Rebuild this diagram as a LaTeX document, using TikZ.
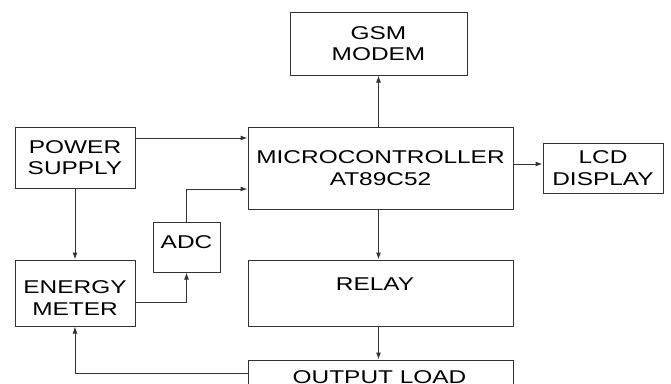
\documentclass[tikz,border=0pt]{standalone}
\usepackage{fontspec}
\setmainfont[FakeStretch=1.32]{Liberation Sans}
\usetikzlibrary{arrows.meta}
\begin{document}
\begin{tikzpicture}[x=1pt,y=-1pt,
  box/.style={draw=black!80,line width=1pt,rectangle,inner sep=0pt,align=center,
    font=\fontsize{18.5}{21.7}\selectfont},
  lbl/.style={inner sep=0pt,align=center,font=\fontsize{18.5}{21.7}\selectfont},
  arr/.style={draw=black!80,line width=1pt,-{Latex[length=7pt,width=5pt]}},
  ln/.style={draw=black!80,line width=1pt}]
\useasboundingbox (0,0) rectangle (671,383);
\clip (0,0) rectangle (671,383);
\node[box,minimum width=177pt,minimum height=63pt] (gsm) at (378.5,43.5) {GSM\\MODEM};
\node[box,minimum width=120pt,minimum height=61pt] (ps) at (75,157.5) {POWER\\SUPPLY};
\node[box,minimum width=265pt,minimum height=82pt] (mc) at (380.5,168) {MICROCONTROLLER\\AT89C52};
\node[box,minimum width=120pt,minimum height=50pt] (lcd) at (603,168) {LCD\\DISPLAY};
\node[box,minimum width=67pt,minimum height=50pt] (adc) at (186.5,247) {};
\node[lbl] (adct) at (186.5,242) {ADC};
\node[box,minimum width=120pt,minimum height=66pt] (em) at (75,293) {};
\node[lbl] (emt) at (75,298) {ENERGY\\METER};
\node[box,minimum width=265pt,minimum height=66pt] (relay) at (380.5,293) {};
\node[lbl] (relayt) at (375,284) {RELAY};
\node[box,minimum width=265pt,minimum height=60pt] (out) at (380.5,390) {};
\node[lbl] (outt) at (379.5,377) {OUTPUT LOAD};
% connectors
\coordinate (g) at (378.5,0);
\draw[arr] (mc.north -| g) -- (gsm.south);
\draw[arr] (ps.east |- 0,138) -- (mc.west |- 0,138);
\draw[arr] (ps.south) -- (em.north);
\draw[arr] (em.east |- 0,302) -| (adc.south);
\draw[arr] (adc.north) |- (mc.west |- 0,189);
\draw[arr] (mc.east |- 0,164) -- (lcd.west |- 0,164);
\draw[arr] (mc.south -| g) -- (relay.north -| g);
\draw[arr] (relay.south -| g) -- (out.north -| g);
\draw[arr] (out.west |- 0,373) -| (em.south);
\end{tikzpicture}
\end{document}
